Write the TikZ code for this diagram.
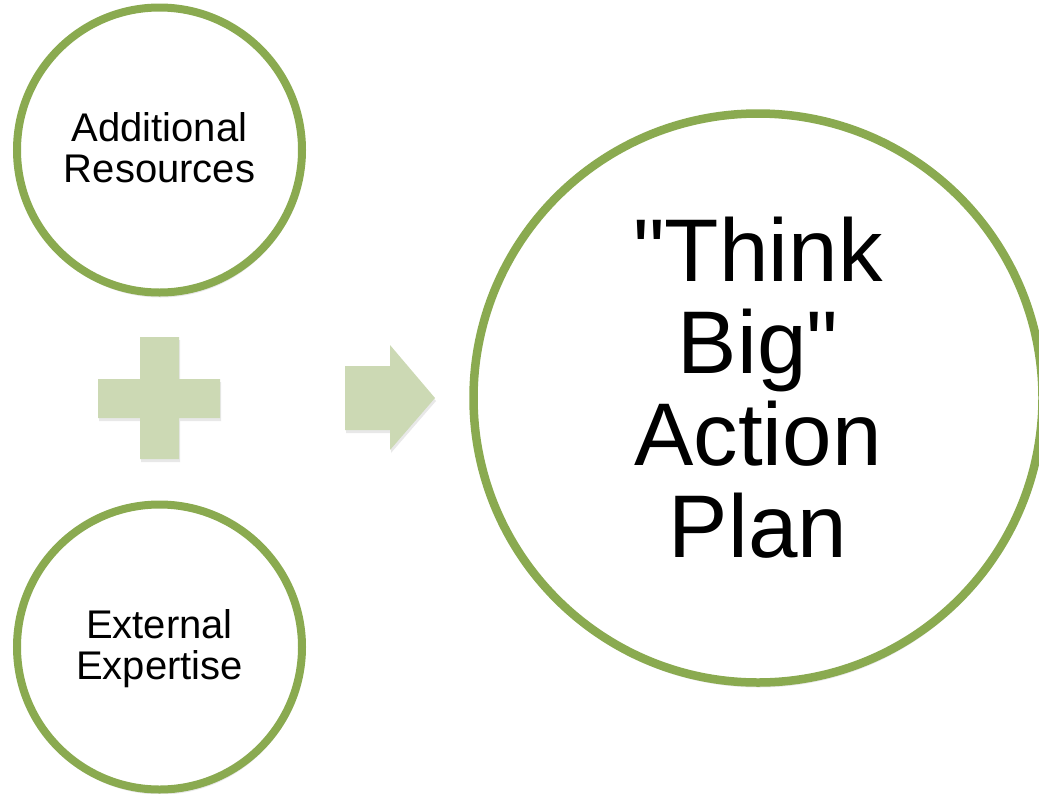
\documentclass[tikz,border=0pt]{standalone}
\usepackage{fontspec}
\setmainfont{Liberation Sans}[Ligatures=TeXOff]
\usetikzlibrary{shadows}
\definecolor{ringgreen}{HTML}{8AAA50}
\definecolor{shapegreen}{HTML}{CCD9B4}
\begin{document}
\begin{tikzpicture}[x=1pt,y=-1pt,
  ring/.style={circle, draw=ringgreen, line width=8pt, fill=white, inner sep=0pt,
    drop shadow={opacity=0.18, shadow xshift=1pt, shadow yshift=-5pt}},
  smalltext/.style={align=center, inner sep=0pt, font=\fontsize{40}{41}\selectfont},
  bigtext/.style={align=center, inner sep=0pt, font=\fontsize{89}{92}\selectfont},
  sign/.style={fill=shapegreen,
    drop shadow={opacity=0.18, shadow xshift=1pt, shadow yshift=-3pt}}]
\useasboundingbox (0,0) rectangle (1039,793);

% the two input circles
\node[ring, minimum size=285pt] (res) at (159.5,150) {};
\node[smalltext] (restext) at (159.5,148) {Additional\\Resources};

\node[ring, minimum size=285pt] (exp) at (159.5,647) {};
\node[smalltext] (exptext) at (159.5,649) {External\\Expertise};

% the result circle
\node[ring, line width=8.5pt, minimum size=569pt] (plan) at (758,398) {};
\node[bigtext] (plantext) at (758,388) {"Think\\Big"\\Action\\Plan};

% plus sign between the inputs
\fill[sign] (140,337) -- (179,337) -- (179,379) -- (220,379) -- (220,418)
  -- (179,418) -- (179,459) -- (140,459) -- (140,418) -- (98,418)
  -- (98,379) -- (140,379) -- cycle;

% arrow towards the result
\fill[sign] (345,366) -- (390,366) -- (390,345) -- (435,398) -- (390,450)
  -- (390,430) -- (345,430) -- cycle;
\end{tikzpicture}
\end{document}
